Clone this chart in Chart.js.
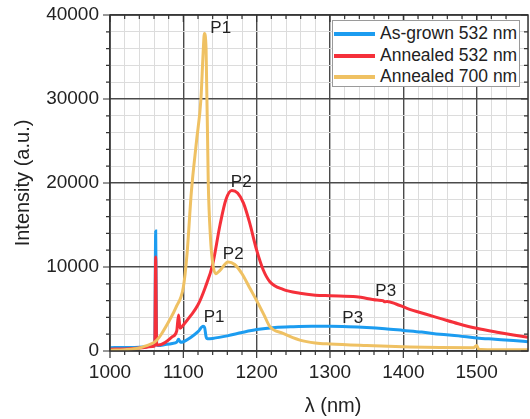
<!DOCTYPE html>
<html>
<head>
<meta charset="utf-8">
<script src="https://cdn.jsdelivr.net/npm/chart.js@4"></script>
<style>
  body { margin: 0; background: #fff; }
  #wrap { position: relative; width: 530px; height: 419px; }
  #legend {
    position: absolute; left: 332px; top: 20px; width: 188px; height: 67px;
    border: 1px solid #9a9a9a; background: #fff; box-sizing: border-box;
    font-family: "Liberation Sans", Arial, sans-serif; font-size: 17.5px; color: #222;
  }
  .row { position: absolute; left: 1px; height: 20px; line-height: 20px; white-space: nowrap; }
  .row span.line { display: inline-block; width: 41px; height: 4px; vertical-align: middle; margin-right: 5px; }
</style>
</head>
<body>
<div id="wrap">
  <canvas id="chart" width="530" height="419"></canvas>
  <div id="legend"></div>
</div>
<script>
// series data (wavelength in nm, intensity in a.u.)
const asGrownX = [1000, 1020, 1040, 1050, 1058, 1061, 1062.3, 1063.6, 1066, 1075, 1085, 1091, 1093.5, 1096, 1100, 1110, 1120, 1127, 1129, 1131, 1133, 1140, 1160, 1180, 1200, 1225, 1250, 1275, 1300, 1325, 1350, 1375, 1400, 1425, 1450, 1475, 1500, 1525, 1550, 1570];
const asGrownY = [400, 420, 460, 520, 600, 650, 14300, 700, 650, 760, 900, 1050, 1400, 1050, 1100, 1600, 2300, 2950, 2800, 1700, 1450, 1500, 1800, 2200, 2550, 2800, 2900, 2950, 2950, 2900, 2800, 2650, 2450, 2250, 2000, 1800, 1550, 1400, 1250, 1100];

const anneal532X = [1000, 1020, 1040, 1050, 1058, 1061, 1062.3, 1063.6, 1066, 1075, 1085, 1091, 1093.5, 1095.5, 1100, 1110, 1120, 1130, 1140, 1150, 1158, 1166, 1174, 1182, 1190, 1200, 1209, 1218, 1236, 1259, 1280, 1300, 1336, 1364, 1372, 1375, 1378, 1390, 1405, 1430, 1450, 1475, 1500, 1530, 1550, 1570];
const anneal532Y = [220, 250, 350, 450, 550, 600, 11200, 700, 700, 1000, 1700, 2400, 4300, 2700, 3100, 4200, 5500, 7600, 10300, 15000, 18000, 19100, 18800, 17600, 15400, 12000, 9640, 8250, 7340, 6870, 6650, 6580, 6460, 6070, 6000, 5850, 5900, 5600, 5080, 4400, 3890, 3250, 2700, 2200, 1900, 1630];

const anneal700X = [1000, 1020, 1040, 1050, 1060, 1064, 1070, 1082, 1090, 1100, 1105, 1111, 1118, 1124, 1127, 1128.7, 1131, 1134, 1137, 1140, 1144, 1150, 1161, 1170, 1180, 1190, 1200, 1210, 1218, 1236, 1259, 1280, 1300, 1350, 1409, 1450, 1496, 1500, 1503, 1520, 1570];
const anneal700Y = [100, 150, 350, 650, 1000, 1300, 2000, 3800, 5200, 7600, 11500, 19000, 25000, 30000, 35500, 37800, 36000, 20000, 13500, 10500, 9200, 9600, 10600, 10300, 9200, 7600, 6000, 4300, 2900, 2100, 1300, 950, 830, 650, 480, 420, 400, 650, 200, 150, 150];

const seriesNames = ['As-grown 532 nm', 'Annealed 532 nm', 'Annealed 700 nm'];
const seriesColors = ['#1c9cf0', '#f5303a', '#efc163'];

// peak labels: text, wavelength, intensity
const peakText = ['P1', 'P2', 'P2', 'P1', 'P3', 'P3'];
const peakX = [1151, 1179, 1168, 1142, 1376, 1331];
const peakY = [38450, 20100, 11550, 3990, 7140, 3930];

const xTicks = { min: 1000, max: 1570, step: 20, major: 100 };
const yTicks = { min: 0, max: 40000, step: 2000, major: 10000 };

function toPoints(xs, ys) {
    return xs.map((x, i) => ({ x: x, y: ys[i] }));
}

const allX = [asGrownX, anneal532X, anneal700X];
const allY = [asGrownY, anneal532Y, anneal700Y];

const datasets = seriesNames.map((name, i) => ({
    label: name,
    data: toPoints(allX[i], allY[i]),
    borderColor: seriesColors[i],
    backgroundColor: seriesColors[i],
    borderWidth: 3,
    pointRadius: 0,
    cubicInterpolationMode: 'monotone',
    fill: false
}));
// draw the yellow first so red and blue sit on top near the baseline
datasets.reverse();

const fontFamily = '"Liberation Sans", Arial, sans-serif';

// frame + tick marks, peak labels and the x title
const framePlugin = {
    id: 'frame',
    afterDraw(chart) {
        const ctx = chart.ctx;
        const a = chart.chartArea;
        const xs = chart.scales.x, ys = chart.scales.y;
        ctx.save();
        ctx.strokeStyle = '#333';
        ctx.lineWidth = 1.5;
        ctx.strokeRect(a.left, a.top, a.right - a.left, a.bottom - a.top);
        ctx.lineWidth = 1.2;
        ctx.beginPath();
        xs.ticks.forEach(t => {
            if (t.value > xTicks.max - 1) return;
            const p = xs.getPixelForValue(t.value);
            const len = t.value % xTicks.major === 0 ? 7 : 4;
            ctx.moveTo(p, a.bottom); ctx.lineTo(p, a.bottom + len);
            ctx.moveTo(p, a.top); ctx.lineTo(p, a.top + len);
        });
        ys.ticks.forEach(t => {
            const p = ys.getPixelForValue(t.value);
            const len = t.value % yTicks.major === 0 ? 7 : 4;
            ctx.moveTo(a.left, p); ctx.lineTo(a.left - len, p);
            ctx.moveTo(a.right, p); ctx.lineTo(a.right - len, p);
        });
        ctx.stroke();

        ctx.fillStyle = '#222';
        ctx.font = '17px ' + fontFamily;
        ctx.textAlign = 'center';
        ctx.textBaseline = 'middle';
        peakText.forEach((txt, i) => {
            ctx.fillText(txt, xs.getPixelForValue(peakX[i]), ys.getPixelForValue(peakY[i]));
        });

        ctx.font = '20px ' + fontFamily;
        ctx.fillText('λ (nm)', 333, 406);
        ctx.restore();
    }
};

const font = { family: fontFamily, size: 19 };

new Chart(document.getElementById('chart'), {
    type: 'line',
    data: { datasets: datasets },
    options: {
        responsive: false,
        animation: false,
        layout: { padding: { top: 15, right: 2, left: 0, bottom: 0 } },
        plugins: { legend: { display: false }, tooltip: { enabled: false } },
        scales: {
            x: {
                type: 'linear',
                min: xTicks.min,
                max: xTicks.max,
                afterFit: s => { s.height = 68; s.paddingLeft = 0; s.paddingRight = 0; },
                ticks: {
                    stepSize: xTicks.step,
                    autoSkip: false,
                    maxRotation: 0,
                    padding: 10,
                    color: '#222',
                    font: font,
                    callback: v => (v % xTicks.major === 0 ? String(v) : '')
                },
                grid: {
                    drawTicks: false,
                    color: c => (c.tick && c.tick.value % xTicks.major === 0 ? '#4a4a4a' : '#dcdcdc'),
                    lineWidth: c => (c.tick && c.tick.value % xTicks.major === 0 ? 1.4 : 1)
                },
                border: { display: false }
            },
            y: {
                min: yTicks.min,
                max: yTicks.max,
                afterFit: s => { s.width = 110; s.paddingTop = 0; s.paddingBottom = 0; },
                ticks: {
                    stepSize: yTicks.step,
                    autoSkip: false,
                    padding: 11,
                    color: '#222',
                    font: font,
                    callback: v => (v % yTicks.major === 0 ? String(v) : '')
                },
                grid: {
                    drawTicks: false,
                    color: c => (c.tick && c.tick.value % yTicks.major === 0 ? '#4a4a4a' : '#dcdcdc'),
                    lineWidth: c => (c.tick && c.tick.value % yTicks.major === 0 ? 1.4 : 1)
                },
                border: { display: false },
                title: {
                    display: true,
                    text: 'Intensity (a.u.)',
                    color: '#222',
                    font: { family: fontFamily, size: 20 },
                    padding: { top: 11, bottom: 0 }
                }
            }
        }
    },
    plugins: [framePlugin]
});

// legend box
const legend = document.getElementById('legend');
seriesNames.forEach((name, i) => {
    const row = document.createElement('div');
    row.className = 'row';
    row.style.top = (2 + i * 21.5) + 'px';
    row.innerHTML = `<span class="line" style="background:${seriesColors[i]}"></span>${name}`;
    legend.appendChild(row);
});
</script>
</body>
</html>
